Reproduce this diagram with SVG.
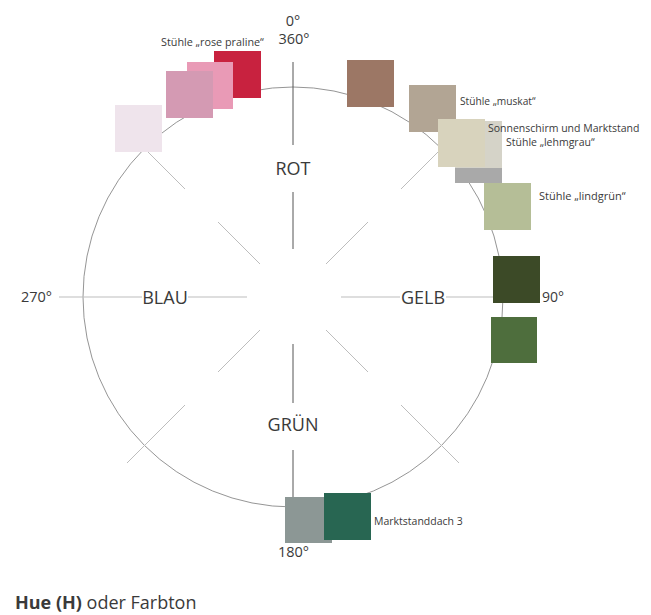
<svg xmlns="http://www.w3.org/2000/svg" width="651" height="615" viewBox="0 0 651 615">
<style>
text{font-family:"Open Sans","Noto Sans","Liberation Sans",sans-serif;fill:#3a3a3a}
.big{font-size:18px}
.deg{font-size:14.5px}
.lbl{font-size:10.5px}
.sp{stroke:#bdbdbd;stroke-width:1;fill:none}
.sv{stroke:#555;stroke-width:1;fill:none}
.circ{stroke:#7a7a7a;stroke-width:0.8;fill:none}
</style>
<rect width="651" height="615" fill="#fff"/>
<g id="connectors">
<circle class="circ" cx="293" cy="297" r="210"/>
<line class="sv" x1="293" y1="62" x2="293" y2="145"/>
<line class="sv" x1="293" y1="192" x2="293" y2="249"/>
<line class="sv" x1="293" y1="344" x2="293" y2="403"/>
<line class="sv" x1="293" y1="450" x2="293" y2="532"/>
<line class="sp" x1="59" y1="297" x2="142" y2="297"/>
<line class="sp" x1="188" y1="297" x2="247" y2="297"/>
<line class="sp" x1="341" y1="297" x2="400" y2="297"/>
<line class="sp" x1="446" y1="297" x2="528" y2="297"/>
<line class="sp" x1="260" y1="264" x2="218" y2="222"/>
<line class="sp" x1="185" y1="189" x2="127" y2="131"/>
<line class="sp" x1="326" y1="264" x2="368" y2="222"/>
<line class="sp" x1="401" y1="189" x2="459" y2="131"/>
<line class="sp" x1="260" y1="330" x2="218" y2="372"/>
<line class="sp" x1="185" y1="405" x2="127" y2="463"/>
<line class="sp" x1="326" y1="330" x2="368" y2="372"/>
<line class="sp" x1="401" y1="405" x2="459" y2="463"/>
</g>
<g id="labels">
<text class="big" x="293" y="175" text-anchor="middle">ROT</text>
<text class="big" x="293" y="431" text-anchor="middle">GRÜN</text>
<text class="big" x="165" y="304" text-anchor="middle">BLAU</text>
<text class="big" x="423" y="304" text-anchor="middle">GELB</text>
<text class="deg" x="293" y="26" text-anchor="middle">0°</text>
<text class="deg" x="294" y="44" text-anchor="middle">360°</text>
<text class="deg" x="21" y="302">270°</text>
<text class="deg" x="542" y="302" style="font-size:14px">90°</text>
<text class="deg" x="278" y="557">180°</text>
</g>
<g id="node-rose">
<rect x="214" y="51" width="47" height="47" fill="#c8223f"/>
<rect x="187" y="62" width="46" height="47" fill="#e99ab6"/>
<rect x="166" y="71" width="47" height="47" fill="#d49ab3"/>
<text class="lbl" x="161" y="46" style="font-size:10.8px">Stühle „rose praline“</text>
</g>
<g id="node-pale">
<rect x="115" y="105" width="47" height="47" fill="#efe4ec"/>
</g>
<g id="node-brown">
<rect x="347" y="60" width="47" height="47" fill="#9c7765"/>
</g>
<g id="node-muskat">
<rect x="409" y="85" width="47" height="47" fill="#b2a594"/>
<text class="lbl" x="460" y="105" style="font-size:10.2px">Stühle „muskat“</text>
</g>
<g id="node-lehmgrau">
<rect x="455" y="136" width="47" height="47" fill="#a9a9a9"/>
<rect x="455" y="121" width="47" height="47" fill="#d5d3c8"/>
<rect x="438" y="119" width="47" height="48" fill="#d8d3bd"/>
<text class="lbl" x="488" y="132">Sonnenschirm und Marktstand</text>
<text class="lbl" x="506" y="146">Stühle „lehmgrau“</text>
</g>
<g id="node-lindgruen">
<rect x="484" y="183" width="47" height="47" fill="#b5be97"/>
<text class="lbl" x="539" y="200" style="font-size:11px">Stühle „lindgrün“</text>
</g>
<g id="node-darkgreen">
<rect x="493" y="256" width="47" height="47" fill="#3c4a27"/>
</g>
<g id="node-midgreen">
<rect x="491" y="317" width="46" height="46" fill="#4e6e3d"/>
</g>
<g id="node-marktstanddach">
<rect x="285" y="497" width="47" height="46" fill="#8c9795"/>
<rect x="324" y="493" width="47" height="47" fill="#286652"/>
<text class="lbl" x="374" y="525">Marktstanddach 3</text>
</g>
<g id="title">
<text x="15" y="609" style="font-size:18px"><tspan font-weight="bold">Hue (H)</tspan> oder Farbton</text>
</g>
</svg>
